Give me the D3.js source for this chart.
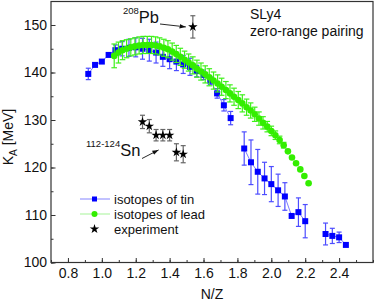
<!DOCTYPE html>
<html>
<head>
<meta charset="utf-8">
<script src="https://cdn.jsdelivr.net/npm/d3@7"></script>
<style>
  body { margin: 0; background: #fff; }
  svg { display: block; font-family: "Liberation Sans", Arial, sans-serif; }
</style>
</head>
<body>
<svg id="chart" width="374" height="302"></svg>
<script>
// tin isotopes (Z=50), N/Z step 2/50
const tinNZ = [0.92, 0.96, 1.00, 1.04, 1.08, 1.12, 1.16, 1.20, 1.24, 1.28, 1.32, 1.36, 1.40, 1.44, 1.48, 1.52, 1.56, 1.60, 1.64, 1.68, 1.72, 1.76,
  1.84, 1.88, 1.92, 1.96, 2.00, 2.04, 2.08, 2.12, 2.16, 2.20, 2.32, 2.36, 2.40, 2.44];
const tinK = [139.7, 141.6, 142.3, 143.7, 144.7, 145.0, 145.2, 145.3, 145.0, 144.7, 144.2, 143.3, 142.8, 142.3, 141.7, 141.2, 140.3, 139.5, 138.3, 135.6, 133.1, 130.4,
  124.0, 121.1, 119.1, 117.7, 116.5, 115.2, 113.9, 109.8, 110.6, 108.7, 106.0, 105.6, 105.3, 103.7];
const tinErr = [1.2, 0, 0, 0, 1.1, 1.5, 1.8, 2.0, 2.2, 2.3, 2.2, 2.0, 2.0, 1.9, 1.9, 1.8, 1.2, 1.0, 0.8, 1.0, 1.2, 1.4,
  3.5, 4.7, 4.7, 3.4, 3.7, 3.4, 2.9, 0, 3.0, 3.5, 2.3, 1.6, 1.1, 0];

// lead isotopes (Z=82), N = 88..182
const leadNZ = [1.073, 1.098, 1.122, 1.146, 1.171, 1.195, 1.220, 1.244, 1.268, 1.293, 1.317, 1.341, 1.366, 1.390, 1.415, 1.439,
  1.463, 1.488, 1.512, 1.537, 1.561, 1.585, 1.610, 1.634, 1.659, 1.683, 1.707, 1.732, 1.756, 1.780, 1.805, 1.829,
  1.854, 1.878, 1.902, 1.927, 1.951, 1.976, 2.000, 2.024, 2.049, 2.073, 2.098, 2.122, 2.146, 2.171, 2.195, 2.220];
const leadK = [143.5, 144.2, 144.7, 145.0, 145.3, 145.5, 145.7, 145.8, 145.8, 145.8, 145.7, 145.5, 145.2, 144.9, 144.4, 143.9,
  143.3, 142.7, 142.1, 141.5, 140.8, 140.2, 139.6, 139.0, 138.3, 137.7, 137.0, 136.3, 135.6, 134.9, 134.2, 133.5,
  132.7, 132.0, 131.2, 130.3, 129.4, 128.6, 127.7, 126.8, 125.8, 124.7, 123.4, 122.1, 120.9, 119.6, 118.2, 116.7];
const leadErr = [2.5, 2.2, 2.0, 1.9, 1.8, 1.8, 1.8, 1.8, 1.8, 1.8, 1.8, 1.8, 1.8, 1.8, 1.8, 1.8,
  1.8, 1.8, 1.8, 1.8, 1.8, 1.8, 1.8, 1.8, 1.8, 1.8, 1.8, 1.8, 1.8, 1.8, 1.8, 1.8,
  1.7, 1.6, 1.5, 1.4, 1.3, 1.1, 1.0, 0.9, 0.8, 0.6, 0, 0, 0, 0, 0, 0];

// experiment: 112-124Sn and 208Pb
const expNZ = [1.24, 1.28, 1.32, 1.36, 1.40, 1.44, 1.48, 1.537];
const expK = [129.6, 128.7, 126.8, 126.8, 126.8, 123.2, 122.8, 149.6];
const expErr = [1.4, 1.4, 1.2, 1.2, 1.2, 1.8, 1.8, 2.35];

const xTicks = [0.8, 1.0, 1.2, 1.4, 1.6, 1.8, 2.0, 2.2, 2.4];
const yTicks = [100, 110, 120, 130, 140, 150];
const legendLabels = ["isotopes of tin", "isotopes of lead", "experiment"];

const svg = d3.select("#chart");
const plotL = 51, plotR = 373, plotT = 1.5, plotB = 262.5;

const x = d3.scaleLinear().domain([0.7, 2.6]).range([plotL, plotR]);
const y = d3.scaleLinear().domain([100, 155]).range([plotB, plotB - 55 * 4.75]);

const tin = tinNZ.map((v, i) => ({nz: v, k: tinK[i], e: tinErr[i]}));
const lead = leadNZ.map((v, i) => ({nz: v, k: leadK[i], e: leadErr[i]}));
const exp = expNZ.map((v, i) => ({nz: v, k: expK[i], e: expErr[i]}));

// axes, ticks pointing inside
const xMinor = d3.range(0.7, 2.61, 0.1).map(d => +d.toFixed(1));
const yMinor = d3.range(100, 155, 5);

svg.append("g")
  .attr("transform", "translate(0," + plotB + ")")
  .call(d3.axisBottom(x).tickValues(xMinor).tickSizeInner(-2.5).tickSizeOuter(0).tickFormat(""))
  .call(g => g.select(".domain").remove())
  .call(g => g.selectAll("line").attr("stroke", "#333"));
svg.append("g")
  .attr("transform", "translate(" + plotL + ",0)")
  .call(d3.axisLeft(y).tickValues(yMinor).tickSizeInner(-2.5).tickSizeOuter(0).tickFormat(""))
  .call(g => g.select(".domain").remove())
  .call(g => g.selectAll("line").attr("stroke", "#333"));

svg.append("g")
  .attr("transform", "translate(0," + plotB + ")")
  .call(d3.axisBottom(x).tickValues(xTicks).tickSizeInner(-4.5).tickSizeOuter(0).tickPadding(5.5).tickFormat(d3.format(".1f")))
  .call(g => g.select(".domain").remove())
  .call(g => g.selectAll("line").attr("stroke", "#333"))
  .call(g => g.selectAll("text").attr("font-size", 14).attr("fill", "#111"))
  .attr("font-family", null);
svg.append("g")
  .attr("transform", "translate(" + plotL + ",0)")
  .call(d3.axisLeft(y).tickValues(yTicks).tickSizeInner(-4.5).tickSizeOuter(0).tickPadding(4))
  .call(g => g.select(".domain").remove())
  .call(g => g.selectAll("line").attr("stroke", "#333"))
  .call(g => g.selectAll("text").attr("font-size", 14).attr("fill", "#111"))
  .attr("font-family", null);

svg.append("rect")
  .attr("x", plotL).attr("y", plotT)
  .attr("width", plotR - plotL).attr("height", plotB - plotT)
  .attr("fill", "none").attr("stroke", "#333").attr("stroke-width", 1.2);

// error bars
function errorBars(data, color, cap) {
  const g = svg.append("g").attr("stroke", color).attr("stroke-width", 1.2);
  data.filter(d => d.e > 0).forEach(d => {
    const cx = x(d.nz), y0 = y(d.k - d.e), y1 = y(d.k + d.e);
    g.append("line").attr("x1", cx).attr("x2", cx).attr("y1", y0).attr("y2", y1);
    g.append("line").attr("x1", cx - cap).attr("x2", cx + cap).attr("y1", y0).attr("y2", y0);
    g.append("line").attr("x1", cx - cap).attr("x2", cx + cap).attr("y1", y1).attr("y2", y1);
  });
}

// tin: bars, thin line (broken at gaps), squares
errorBars(tin, "#4d4dff", 2.5);
const tinLine = svg.append("g").attr("stroke", "#7b7bff").attr("stroke-width", 1);
tin.forEach((d, i) => {
  if (i === 0) return;
  const p = tin[i - 1];
  if (d.nz - p.nz > 0.05) return;
  tinLine.append("line")
    .attr("x1", x(p.nz)).attr("y1", y(p.k))
    .attr("x2", x(d.nz)).attr("y2", y(d.k));
});
svg.append("g").selectAll("rect").data(tin).join("rect")
  .attr("x", d => x(d.nz) - 3).attr("y", d => y(d.k) - 3)
  .attr("width", 6).attr("height", 6)
  .attr("fill", "#0000ff");

// lead
errorBars(lead, "#3ff01a", 2.8);
svg.append("g").selectAll("circle").data(lead).join("circle")
  .attr("cx", d => x(d.nz)).attr("cy", d => y(d.k)).attr("r", 3.3)
  .attr("fill", "#33ee00");

// experiment
errorBars(exp, "#666", 2.5);
const star = d3.symbol().type(d3.symbolStar).size(28);
svg.append("g").selectAll("path").data(exp).join("path")
  .attr("transform", d => "translate(" + x(d.nz) + "," + y(d.k) + ")")
  .attr("d", star).attr("fill", "#000");

// annotations
svg.append("defs").append("marker")
  .attr("id", "arr").attr("viewBox", "0 0 10 10").attr("refX", 10).attr("refY", 5)
  .attr("markerWidth", 7).attr("markerHeight", 7).attr("orient", "auto")
  .append("path").attr("d", "M0,1.5 L10,5 L0,8.5 Z").attr("fill", "#111");

const pb = svg.append("text").attr("x", 123).attr("y", 23).attr("fill", "#111");
pb.append("tspan").attr("font-size", 9.5).attr("dy", -9).text("208");
pb.append("tspan").attr("font-size", 16.5).attr("dy", 9).text("Pb");
svg.append("line")
  .attr("x1", 160).attr("y1", 24)
  .attr("x2", x(expNZ[7]) - 7).attr("y2", y(expK[7]))
  .attr("stroke", "#111").attr("stroke-width", 0.9).attr("marker-end", "url(#arr)");

const sn = svg.append("text").attr("x", 86).attr("y", 156).attr("fill", "#111");
sn.append("tspan").attr("font-size", 9.5).attr("dy", -9).text("112-124");
sn.append("tspan").attr("font-size", 16.5).attr("dy", 9).text("Sn");
svg.append("line")
  .attr("x1", 142).attr("y1", 158.5)
  .attr("x2", x(1.335)).attr("y2", y(123.7))
  .attr("stroke", "#111").attr("stroke-width", 0.9).attr("marker-end", "url(#arr)");

svg.append("text").attr("x", 250).attr("y", 19).attr("font-size", 14).attr("fill", "#111").text("SLy4");
svg.append("text").attr("x", 250).attr("y", 36).attr("font-size", 14).attr("fill", "#111").text("zero-range pairing");

// axis titles
svg.append("text").attr("x", 212).attr("y", 299).attr("text-anchor", "middle")
  .attr("font-size", 14).attr("fill", "#111").text("N/Z");
const yt = svg.append("text")
  .attr("transform", "translate(13,137) rotate(-90)")
  .attr("text-anchor", "middle").attr("font-size", 14).attr("fill", "#111");
yt.append("tspan").text("K");
yt.append("tspan").attr("font-size", 10).attr("dy", 4).text("A");
yt.append("tspan").attr("dy", -4).text(" [MeV]");

// legend
const leg = svg.append("g");
const rows = [199, 214, 229];
leg.append("line").attr("x1", 80).attr("x2", 110).attr("y1", rows[0]).attr("y2", rows[0]).attr("stroke", "#9a9aff").attr("stroke-width", 1.2);
leg.append("rect").attr("x", 94.5 - 2.5).attr("y", rows[0] - 2.5).attr("width", 5).attr("height", 5).attr("fill", "#0000ff");
leg.append("line").attr("x1", 80).attr("x2", 110).attr("y1", rows[1]).attr("y2", rows[1]).attr("stroke", "#b4f5a8").attr("stroke-width", 1.2);
leg.append("circle").attr("cx", 94.5).attr("cy", rows[1]).attr("r", 3).attr("fill", "#33ee00");
leg.append("path").attr("transform", "translate(94.5," + rows[2] + ")").attr("d", star).attr("fill", "#000");
leg.selectAll("text").data(legendLabels).join("text")
  .attr("x", 114).attr("y", (d, i) => rows[i] + 4.5)
  .attr("font-size", 13).attr("fill", "#111").text(d => d);
</script>
</body>
</html>
